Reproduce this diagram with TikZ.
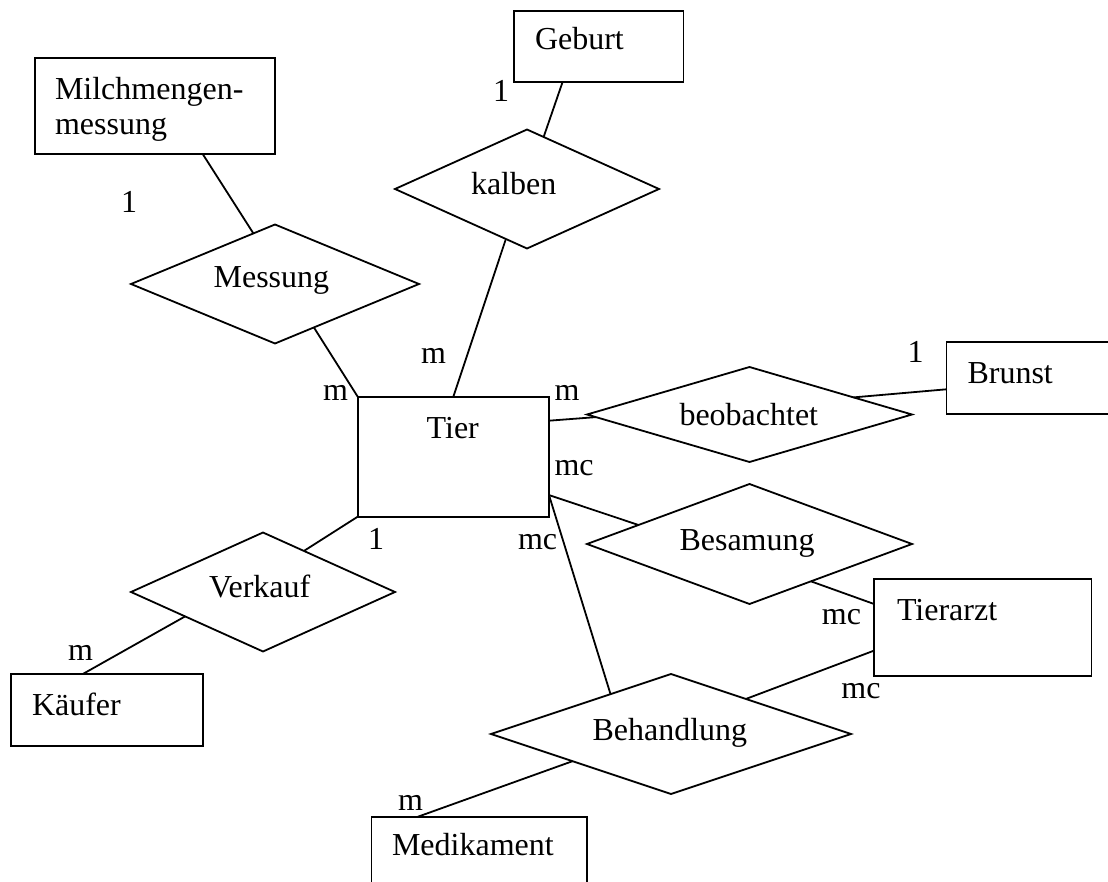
\documentclass[tikz,border=0pt]{standalone}
\usepackage{fontspec}
\setmainfont{Liberation Serif}
\usetikzlibrary{shapes.geometric,calc}
\begin{document}
\begin{tikzpicture}[x=1pt,y=-1pt,line width=1.8pt,
  entity/.style={draw,rectangle,inner sep=0pt,outer sep=0pt},
  rel/.style={draw,diamond,inner sep=0pt,outer sep=0pt},
  txt/.style={inner sep=0pt,outer sep=0pt,anchor=base west,font=\fontsize{32}{38}\selectfont},
  conn/.style={line width=1.8pt}]
\useasboundingbox (0,0) rectangle (1108,882);
\clip (0,0) rectangle (1108,882);

% entities
\node[entity,minimum width=240.4pt,minimum height=96.3pt] (milch) at (154.8,106.15) {};
\node[entity,minimum width=169.5pt,minimum height=71.6pt] (geburt) at (598.75,46.5) {};
\node[entity,minimum width=173.6pt,minimum height=72pt] (brunst) at (1033.2,378) {};
\node[entity,minimum width=191.3pt,minimum height=120pt] (tier) at (453.35,456.7) {};
\node[entity,minimum width=192.3pt,minimum height=71.7pt] (kaeufer) at (106.85,709.85) {};
\node[entity,minimum width=217.4pt,minimum height=96.4pt] (tierarzt) at (982.7,627.5) {};
\node[entity,minimum width=215.6pt,minimum height=83.3pt] (medi) at (479.2,858.35) {};

% relationships
\node[rel,minimum width=288pt,minimum height=119pt] (mess) at (275,284) {};
\node[rel,minimum width=264pt,minimum height=119pt] (kalb) at (527,189) {};
\node[rel,minimum width=264pt,minimum height=119pt] (verk) at (263,592) {};
\node[rel,minimum width=325pt,minimum height=95pt] (beob) at (749.5,414.5) {};
\node[rel,minimum width=325pt,minimum height=120pt] (besa) at (749.5,544) {};
\node[rel,minimum width=360pt,minimum height=120pt] (beha) at (671,734) {};

% texts
\node[txt] (milchT1) at (55,100) {Milchmengen-};
\node[txt] (milchT2) at (55,135) {messung};
\node[txt] (geburtT) at (535,50) {Geburt};
\node[txt] (brunstT) at (967.5,383.3) {Brunst};
\node[txt] (tierT) at (426.7,438.3) {Tier};
\node[txt] (kaeuferT) at (32,715) {Käufer};
\node[txt] (tierarztT) at (897,620) {Tierarzt};
\node[txt] (mediT) at (392,855) {Medikament};
\node[txt] (messT) at (213.6,288) {Messung};
\node[txt] (kalbT) at (471,195) {kalben};
\node[txt] (verkT) at (209,597) {Verkauf};
\node[txt] (beobT) at (679.5,425) {beobachtet};
\node[txt] (besaT) at (679.5,550) {Besamung};
\node[txt] (behaT) at (592.5,740) {Behandlung};

% cardinalities
\node[txt] (c1) at (121,213) {1};
\node[txt] (c2) at (493,102) {1};
\node[txt] (c3) at (323,400) {m};
\node[txt] (c4) at (421,363) {m};
\node[txt] (c5) at (554.5,400) {m};
\node[txt] (c6) at (907.7,362.7) {1};
\node[txt] (c7) at (554.5,475) {mc};
\node[txt] (c8) at (368,549.3) {1};
\node[txt] (c9) at (518,549.3) {mc};
\node[txt] (c10) at (68,660.7) {m};
\node[txt] (c11) at (821.9,624) {mc};
\node[txt] (c12) at (841.4,698.3) {mc};
\node[txt] (c13) at (398,810) {m};

% connectors
\draw[conn] ($(milch.south west)!0.7!(milch.south east)$) -- ($(mess.north)!0.15!(mess.west)$);
\draw[conn] ($(mess.south)!0.27!(mess.east)$) -- (tier.north west);
\draw[conn] ($(geburt.south west)!0.286!(geburt.south east)$) -- ($(kalb.north)!0.126!(kalb.east)$);
\draw[conn] ($(kalb.south)!0.16!(kalb.west)$) -- (tier.north);
\draw[conn] ($(tier.north east)!0.2!(tier.south east)$) -- ($(beob.west)!0.055!(beob.south)$);
\draw[conn] ($(beob.north)!0.64!(beob.east)$) -- ($(brunst.north west)!0.657!(brunst.south west)$);
\draw[conn] ($(tier.north east)!0.82!(tier.south east)$) -- ($(besa.west)!0.317!(besa.north)$);
\draw[conn] ($(tier.north east)!0.82!(tier.south east)$) -- ($(beha.west)!0.664!(beha.north)$);
\draw[conn] ($(besa.south)!0.378!(besa.east)$) -- ($(tierarzt.north west)!0.256!(tierarzt.south west)$);
\draw[conn] ($(tierarzt.north west)!0.74!(tierarzt.south west)$) -- ($(beha.north)!0.416!(beha.east)$);
\draw[conn] ($(beha.west)!0.453!(beha.south)$) -- ($(medi.north west)!0.216!(medi.north east)$);
\draw[conn] (tier.south west) -- ($(verk.north)!0.31!(verk.east)$);
\draw[conn] ($(verk.west)!0.41!(verk.south)$) -- ($(kaeufer.north west)!0.375!(kaeufer.north east)$);
\end{tikzpicture}
\end{document}
